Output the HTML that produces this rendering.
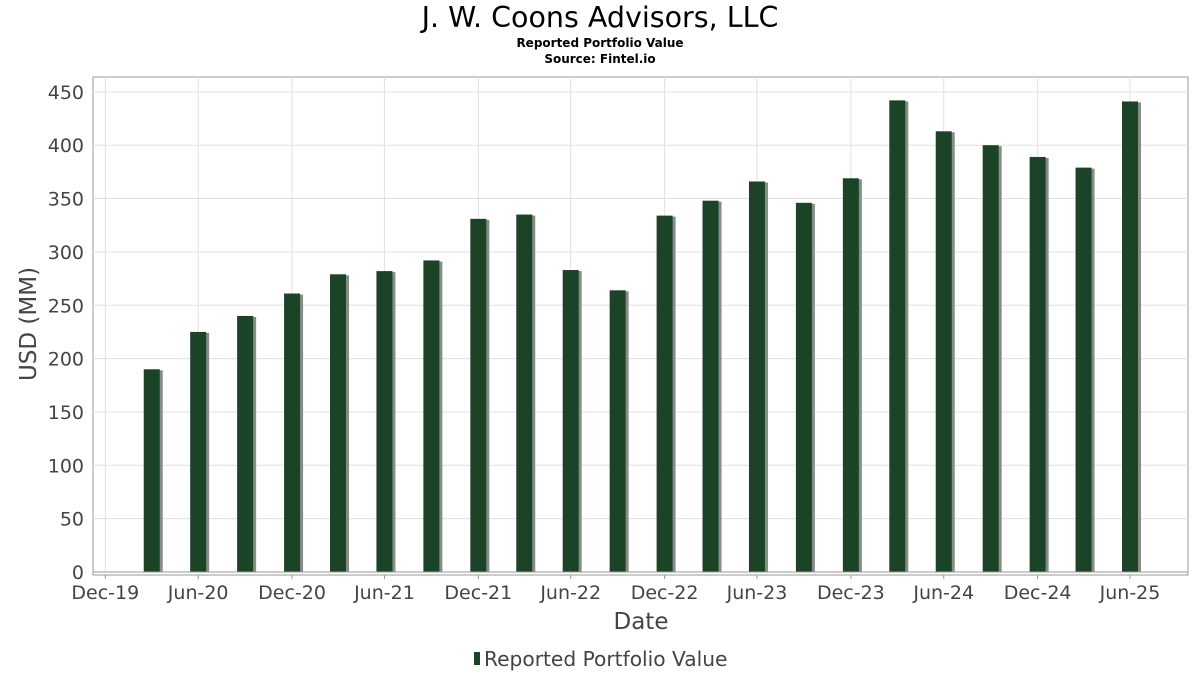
<!DOCTYPE html>
<html><head><meta charset="utf-8"><style>
body{margin:0;background:#fff;font-family:"DejaVu Sans","Liberation Sans",sans-serif;}
</style></head><body>
<svg id="chart" width="1200" height="675" xmlns="http://www.w3.org/2000/svg">
<text x="600" y="27" text-anchor="middle" font-size="28.5" fill="#000">J. W. Coons Advisors, LLC</text>
<text x="600" y="47" text-anchor="middle" font-size="12" font-weight="bold">Reported Portfolio Value</text>
<text x="600" y="63" text-anchor="middle" font-size="12" font-weight="bold">Source: Fintel.io</text>
<rect x="93" y="77" width="1095" height="498" fill="#fff" stroke="#999"/>
<g id="grid"></g><g id="bars"></g><g id="axes"></g>
<text x="36" y="324" text-anchor="middle" font-size="23" fill="#444" transform="rotate(-90 36 324)">USD (MM)</text>
<text x="641" y="629" text-anchor="middle" font-size="23" fill="#444">Date</text>
<g>
<rect x="474" y="652" width="6" height="13" fill="#1a4425"/>
<text x="484" y="666" font-size="20.2" fill="#444">Reported Portfolio Value</text>
</g>
</svg>
<script>
const dates=["2020-03-31","2020-06-30","2020-09-30","2020-12-31","2021-03-31","2021-06-30","2021-09-30","2021-12-31","2022-03-31","2022-06-30","2022-09-30","2022-12-31","2023-03-31","2023-06-30","2023-09-30","2023-12-31","2024-03-31","2024-06-30","2024-09-30","2024-12-31","2025-03-31","2025-06-30"];
const values=[190,225,240,261,279,282,292,331,335,283,264,334,348,366,346,369,442,413,400,389,379,441];
const xTickDates=["2019-12-31","2020-06-30","2020-12-31","2021-06-30","2021-12-31","2022-06-30","2022-12-31","2023-06-30","2023-12-31","2024-06-30","2024-12-31","2025-06-30"];
const xTickLabels=["Dec-19","Jun-20","Dec-20","Jun-21","Dec-21","Jun-22","Dec-22","Jun-23","Dec-23","Jun-24","Dec-24","Jun-25"];
const yTicks=[0,50,100,150,200,250,300,350,400,450];

const NS="http://www.w3.org/2000/svg";
const t0=Date.parse("2019-12-31"),t1=Date.parse("2025-06-30");
function xs(d){return 105.3+(Date.parse(d)-t0)/(t1-t0)*(1130-105.3);}
function ys(v){return 572-v*1.067;}
function mk(tag,attrs,parent,text){const e=document.createElementNS(NS,tag);for(const k in attrs)e.setAttribute(k,attrs[k]);if(text!==undefined)e.textContent=text;document.getElementById(parent).appendChild(e);return e;}
yTicks.forEach(v=>{
  const l=mk('line',{x1:93,x2:1188,y1:ys(v),y2:ys(v),stroke:'#e0e0e0'},'grid');
  
  
  const t=mk('text',{x:84,y:ys(v)+7,'text-anchor':'end','font-size':19,fill:'#444'},'axes',String(v));
  
  
});
xTickDates.forEach((d,i)=>{
  const x=xs(d);
  const l=mk('line',{x1:x,x2:x,y1:77,y2:572,stroke:'#e0e0e0'},'grid');
  
  
  mk('line',{x1:x,x2:x,y1:575,y2:579,stroke:'#999'},'axes');
  const t=mk('text',{x:x,y:599,'text-anchor':'middle','font-size':19,fill:'#444'},'axes',xTickLabels[i]);
  
  
});
mk('line',{x1:93,x2:1188,y1:572,y2:572,stroke:'#999'},'axes');
dates.forEach((d,i)=>{
  const c=xs(d),y=ys(values[i]),h=572-y;
  mk('rect',{x:c-8+3,y:y+1,width:16,height:h-1,fill:'#8a8a8a'},'bars');
  const r=mk('rect',{x:c-8,y:y,width:16,height:h,fill:'#1a4425'},'bars');
  
  
});
</script>
</body></html>
